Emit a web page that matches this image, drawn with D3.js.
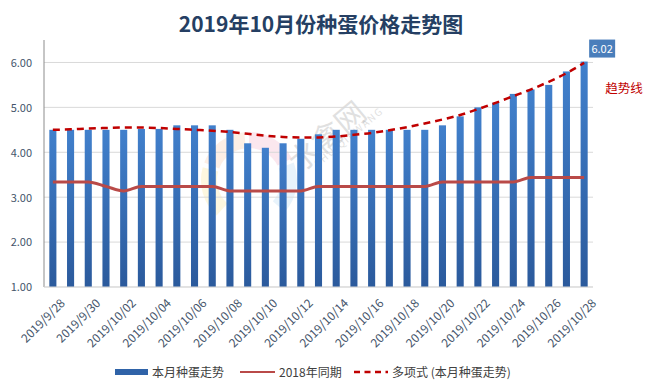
<!DOCTYPE html>
<html>
<head>
<meta charset="utf-8">
<script src="https://cdn.jsdelivr.net/npm/d3@7"></script>
<style>
    body { margin: 0; background: #fff; }
    text { font-family: "Noto Sans CJK SC", "Noto Sans", sans-serif; }
</style>
</head>
<body>
<div id="chart"></div>
<script>
// categories: every day from 9/28 to 10/28
const dates = [
    "2019/9/28", "2019/9/29", "2019/9/30", "2019/10/01", "2019/10/02", "2019/10/03", "2019/10/04",
    "2019/10/05", "2019/10/06", "2019/10/07", "2019/10/08", "2019/10/09", "2019/10/10", "2019/10/11",
    "2019/10/12", "2019/10/13", "2019/10/14", "2019/10/15", "2019/10/16", "2019/10/17", "2019/10/18",
    "2019/10/19", "2019/10/20", "2019/10/21", "2019/10/22", "2019/10/23", "2019/10/24", "2019/10/25",
    "2019/10/26", "2019/10/27", "2019/10/28"
];

// shown tick labels
const tickLabels = [
    "2019/9/28", "2019/9/30", "2019/10/02", "2019/10/04", "2019/10/06", "2019/10/08", "2019/10/10",
    "2019/10/12", "2019/10/14", "2019/10/16", "2019/10/18", "2019/10/20", "2019/10/22", "2019/10/24",
    "2019/10/26", "2019/10/28"
];

// 本月种蛋走势
const thisMonth = [
    4.50, 4.50, 4.50, 4.50, 4.50, 4.52, 4.52, 4.60, 4.60, 4.60, 4.50, 4.20, 4.10, 4.20, 4.30, 4.40,
    4.50, 4.50, 4.50, 4.50, 4.50, 4.50, 4.60, 4.80, 5.00, 5.10, 5.30, 5.40, 5.50, 5.80, 6.02
];

// 2018年同期
const lastYear = [
    3.34, 3.34, 3.34, 3.24, 3.14, 3.24, 3.24, 3.24, 3.24, 3.24, 3.14, 3.14, 3.14, 3.14, 3.14, 3.24,
    3.24, 3.24, 3.24, 3.24, 3.24, 3.24, 3.34, 3.34, 3.34, 3.34, 3.34, 3.44, 3.44, 3.44, 3.44
];

// 多项式 (本月种蛋走势)
const trend = [
    4.50, 4.51, 4.53, 4.54, 4.55, 4.55, 4.54, 4.52, 4.50, 4.48, 4.45, 4.41, 4.37, 4.34, 4.33, 4.33,
    4.35, 4.39, 4.43, 4.49, 4.56, 4.64, 4.73, 4.83, 4.96, 5.10, 5.25, 5.40, 5.57, 5.76, 5.99
];

const yTicks = [1, 2, 3, 4, 5, 6];

class PriceChart
{
    constructor(_config)
    {
        this.config =
        {
            parentElement: _config.parentElement,
            containerWidth: _config.containerWidth || 652,
            containerHeight: _config.containerHeight || 388,
            margin: _config.margin || {top: 40, right: 59, bottom: 101, left: 44}
        }
        this.initChart();
    }

    initChart()
    {
        let vis = this;

        vis.width = vis.config.containerWidth - vis.config.margin.left - vis.config.margin.right;
        vis.height = vis.config.containerHeight - vis.config.margin.top - vis.config.margin.bottom;

        vis.svg = d3.select(vis.config.parentElement).append('svg')
            .attr('width', vis.config.containerWidth)
            .attr('height', vis.config.containerHeight);

        let grad = vis.svg.append('defs').append('linearGradient')
            .attr('id', 'barGrad')
            .attr('x1', 0).attr('y1', 0).attr('x2', 0).attr('y2', 1);
        grad.append('stop').attr('offset', '0%').attr('stop-color', '#4180cc');
        grad.append('stop').attr('offset', '100%').attr('stop-color', '#2b5a9c');

        vis.chart = vis.svg.append('g')
            .attr('transform', `translate(${vis.config.margin.left},${vis.config.margin.top})`);

        vis.x = d3.scaleBand()
            .domain(dates)
            .range([0, vis.width])
            .paddingInner(0.6)
            .paddingOuter(0.3);

        vis.y = d3.scaleLinear()
            .domain([1, 6.5])
            .range([vis.height, 0]);

        vis.drawWatermark();
        vis.drawAxes();
        vis.drawMarks();
        vis.drawLegend();

        // title
        vis.svg.append('text')
            .attr('x', 321)
            .attr('y', 32)
            .attr('text-anchor', 'middle')
            .attr('font-size', 21)
            .attr('font-weight', 'bold')
            .attr('fill', '#253f63')
            .text('2019年10月份种蛋价格走势图');
    }

    drawWatermark()
    {
        let vis = this;
        let wm = vis.chart.append('g').attr('opacity', 0.12);
        let arc = d3.arc().innerRadius(32).outerRadius(48);
        let ringColors = ['#f5c400', '#f08030', '#e0407a', '#4aa0e0'];
        ringColors.forEach((c, i) => {
            wm.append('path')
                .attr('transform', 'translate(205,140)')
                .attr('d', arc({startAngle: -2.4 + i * 1.2, endAngle: -1.3 + i * 1.2}))
                .attr('fill', c);
        });
        vis.chart.append('text')
            .attr('transform', 'translate(290,105) rotate(-40)')
            .attr('text-anchor', 'middle')
            .attr('font-size', 30)
            .attr('fill', '#9a9a9a')
            .attr('opacity', 0.3)
            .text('水禽网');
        vis.chart.append('text')
            .attr('transform', 'translate(307,100) rotate(-40)')
            .attr('text-anchor', 'middle')
            .attr('font-size', 10)
            .attr('letter-spacing', 1.5)
            .attr('fill', '#9a9a9a')
            .attr('opacity', 0.3)
            .text('SHUIQINWANG');
    }

    drawAxes()
    {
        let vis = this;

        // gridlines
        vis.chart.append('g')
            .selectAll('line')
            .data(yTicks)
            .enter().append('line')
                .attr('x1', 0)
                .attr('x2', vis.width)
                .attr('y1', d => vis.y(d))
                .attr('y2', d => vis.y(d))
                .attr('stroke', '#d9d9d9')
                .attr('stroke-width', 1);

        let yAxis = vis.chart.append('g')
            .call(d3.axisLeft(vis.y).tickValues(yTicks).tickFormat(d3.format('.2f')).tickSize(0).tickPadding(12));
        yAxis.select('.domain').remove();
        yAxis.selectAll('text')
            .attr('font-size', 11)
            .attr('fill', '#44546a')
            .attr('dy', '0.35em');

        vis.chart.append('line')
            .attr('x1', 0).attr('x2', 0)
            .attr('y1', 0).attr('y2', vis.height)
            .attr('stroke', '#8c8c8c')
            .attr('stroke-width', 1);

        let xAxis = vis.chart.append('g')
            .attr('transform', `translate(0,${vis.height})`)
            .call(d3.axisBottom(vis.x).tickValues(tickLabels).tickSize(0));
        xAxis.select('.domain').remove();
        xAxis.selectAll('text')
            .attr('font-size', 12)
            .attr('fill', '#44546a')
            .attr('text-anchor', 'end')
            .attr('transform', 'translate(7,11) rotate(-45)')
            .attr('x', 0)
            .attr('y', 0)
            .attr('dy', '0.7em');
    }

    drawMarks()
    {
        let vis = this;
        let cx = d => vis.x(d) + vis.x.bandwidth() / 2;

        vis.chart.append('g')
            .selectAll('rect')
            .data(dates)
            .enter().append('rect')
                .attr('x', d => vis.x(d))
                .attr('width', vis.x.bandwidth())
                .attr('y', (d, i) => vis.y(thisMonth[i]))
                .attr('height', (d, i) => vis.height - vis.y(thisMonth[i]))
                .attr('fill', 'url(#barGrad)');

        vis.chart.append('line')
            .attr('x1', 0).attr('x2', vis.width)
            .attr('y1', vis.height).attr('y2', vis.height)
            .attr('stroke', '#d9d9d9');

        let lastLine = d3.line()
            .x((d, i) => cx(dates[i]))
            .y(d => vis.y(d))
            .curve(d3.curveMonotoneX);

        vis.chart.append('path')
            .datum(lastYear)
            .attr('d', lastLine)
            .attr('fill', 'none')
            .attr('stroke', '#b94a48')
            .attr('stroke-width', 3);

        vis.chart.append('path')
            .datum(trend)
            .attr('d', lastLine)
            .attr('fill', 'none')
            .attr('stroke', '#c00000')
            .attr('stroke-width', 2.5)
            .attr('stroke-dasharray', '7,5');

        // value label on the last bar
        let lastX = cx(dates[dates.length - 1]);
        let lastY = vis.y(thisMonth[thisMonth.length - 1]);
        vis.chart.append('rect')
            .attr('x', lastX + 5)
            .attr('y', lastY - 22)
            .attr('width', 26)
            .attr('height', 18)
            .attr('fill', '#4a7ebb');
        vis.chart.append('text')
            .attr('x', lastX + 18)
            .attr('y', lastY - 9)
            .attr('text-anchor', 'middle')
            .attr('font-size', 11)
            .attr('fill', '#fff')
            .text(d3.format('.2f')(thisMonth[thisMonth.length - 1]));

        vis.chart.append('text')
            .attr('x', lastX + 21)
            .attr('y', lastY + 31)
            .attr('font-size', 12.5)
            .attr('fill', '#c00000')
            .text('趋势线');
    }

    drawLegend()
    {
        let vis = this;
        let lg = vis.svg.append('g').attr('transform', 'translate(0,372)');
        let font = 12, color = '#404040';

        lg.append('rect')
            .attr('x', 115).attr('y', -3)
            .attr('width', 33).attr('height', 6)
            .attr('fill', '#2f63a8');
        lg.append('text').attr('x', 152).attr('y', 4.5).attr('font-size', font).attr('fill', color)
            .text('本月种蛋走势');

        lg.append('line')
            .attr('x1', 240).attr('x2', 275).attr('y1', 0).attr('y2', 0)
            .attr('stroke', '#b94a48').attr('stroke-width', 2);
        lg.append('text').attr('x', 279).attr('y', 4.5).attr('font-size', font).attr('fill', color)
            .text('2018年同期');

        lg.append('line')
            .attr('x1', 354).attr('x2', 388).attr('y1', 0).attr('y2', 0)
            .attr('stroke', '#c00000').attr('stroke-width', 2.5)
            .attr('stroke-dasharray', '6,4.5');
        lg.append('text').attr('x', 392).attr('y', 4.5).attr('font-size', font).attr('fill', color)
            .text('多项式 (本月种蛋走势)');
    }
}

new PriceChart({parentElement: '#chart'});
</script>
</body>
</html>
